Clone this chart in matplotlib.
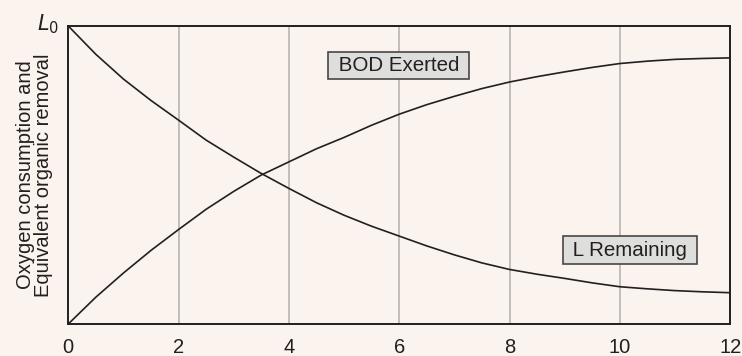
import numpy as np
import matplotlib
matplotlib.use('Agg')
from matplotlib import pyplot as plt
import matplotlib.transforms as mtransforms

# values (fraction of L0), every half day
days = [0, 0.5, 1, 1.5, 2, 2.5, 3, 3.5, 4, 4.5, 5, 5.5, 6,
        6.5, 7, 7.5, 8, 8.5, 9, 9.5, 10, 10.5, 11, 11.5, 12]
l_remaining = [1.0, 0.905, 0.822, 0.75, 0.684, 0.617, 0.56, 0.505, 0.455, 0.407, 0.365, 0.328, 0.295,
               0.262, 0.232, 0.205, 0.183, 0.167, 0.153, 0.138, 0.125, 0.118, 0.112, 0.108, 0.105]
bod_exerted = [0.0, 0.09, 0.171, 0.247, 0.317, 0.385, 0.445, 0.50, 0.544, 0.588, 0.626, 0.667, 0.704,
               0.736, 0.764, 0.79, 0.812, 0.83, 0.846, 0.861, 0.874, 0.882, 0.888, 0.891, 0.893]
xticks = [0, 2, 4, 6, 8, 10, 12]
grid_days = [2, 4, 6, 8, 10]

bg = '#fbf3ed'
ink = '#231f20'
plt.rcParams['font.family'] = ['Liberation Sans', 'DejaVu Sans']

fig = plt.figure(figsize=(7.42, 3.56), dpi=100, facecolor=bg)
ax = fig.add_axes([0.092, 0.0899, 0.892, 0.8371])
ax.set_facecolor(bg)

for g in grid_days:
    ax.axvline(g, color='#bdb9b7', lw=1.3, zorder=1)

ax.plot(days, l_remaining, color=ink, lw=1.2, zorder=3)
ax.plot(days, bod_exerted, color=ink, lw=1.2, zorder=3)

ax.set_xlim(0, 12)
ax.set_ylim(0, 1)
ax.set_xticks(xticks)
ax.set_xticklabels([str(t) for t in xticks], fontsize=14.5, color=ink)
ax.set_yticks([1])
ax.set_yticklabels([r'$L_0$'], fontsize=15, color=ink)
ax.tick_params(axis='x', length=0, pad=10)
ax.tick_params(axis='y', length=0, pad=7)
# nudge L0 up a little, it sits above the top line in the original
up = mtransforms.ScaledTranslation(0, 5 / 100, fig.dpi_scale_trans)
for lab in ax.get_yticklabels():
    lab.set_transform(lab.get_transform() + up)
for s in ax.spines.values():
    s.set_color(ink)
    s.set_linewidth(1.4)

ax.set_ylabel('Oxygen consumption and\nEquivalent organic removal', fontsize=14.5,
              color=ink, linespacing=0.95)
ax.yaxis.set_label_coords(-0.023, 0.5)

box = dict(boxstyle='square,pad=0.2', fc='#dededc', ec='#4a4546', lw=1.2)
ax.text(5.99, 0.867, ' BOD Exerted ', fontsize=14.8, ha='center', va='center',
        color=ink, bbox=box, zorder=4)
ax.text(10.19, 0.248, ' L Remaining ', fontsize=14.8, ha='center', va='center',
        color=ink, bbox=box, zorder=4)

fig.savefig('out.png', dpi=100, facecolor=bg)
